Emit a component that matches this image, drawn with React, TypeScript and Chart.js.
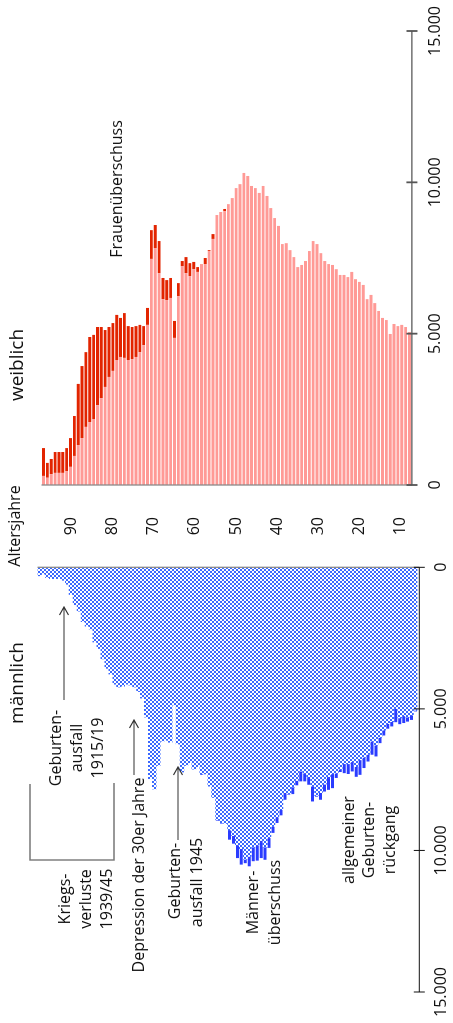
import React, { useEffect, useRef } from "react";
import { Chart, registerables } from "chart.js";

Chart.register(...registerables);

// Altersjahre (oldest at top)
const ages = [
  95, 94, 93, 92, 91, 90, 89, 88, 87, 86, 85, 84, 83, 82, 81, 80, 79, 78, 77, 76,
  75, 74, 73, 72, 71, 70, 69, 68, 67, 66, 65, 64, 63, 62, 61, 60, 59, 58, 57, 56,
  55, 54, 53, 52, 51, 50, 49, 48, 47, 46, 45, 44, 43, 42, 41, 40, 39, 38, 37, 36,
  35, 34, 33, 32, 31, 30, 29, 28, 27, 26, 25, 24, 23, 22, 21, 20, 19, 18, 17, 16,
  15, 14, 13, 12, 11, 10, 9, 8, 7, 6, 5, 4, 3, 2, 1, 0,
];

const female = [
  1220, 730, 860, 1090, 1090, 1090, 1220, 1550, 2280, 3340,
  3930, 4390, 4890, 4960, 5220, 5220, 5120, 5220, 5350, 5620,
  5520, 5680, 5250, 5220, 5250, 5290, 5250, 5850, 8420, 8590,
  8060, 6840, 6770, 6840, 5420, 6670, 7400, 7530, 7330, 7370,
  7200, 7300, 7500, 7760, 8290, 8920, 9020, 9120, 9280, 9480,
  9810, 9940, 10310, 10210, 9880, 9810, 9650, 9880, 9550, 9150,
  8820, 8560, 7960, 7990, 7760, 7530, 7200, 7270, 7400, 7730,
  8060, 7960, 7660, 7400, 7300, 7270, 7130, 6940, 6940, 6870,
  7040, 6800, 6710, 6610, 6140, 6280, 6010, 5750, 5520, 5450,
  4990, 5320, 5250, 5290, 5220, 5050,
];

const male = [
  300, 240, 360, 400, 400, 400, 460, 600, 960, 1320,
  1550, 1920, 2080, 2180, 2640, 2870, 3240, 3570, 3770, 4130,
  4230, 4200, 4130, 4160, 4230, 4390, 4620, 5290, 7470, 7830,
  7000, 6140, 6110, 6180, 4860, 6240, 7230, 7000, 6900, 7130,
  7040, 7330, 7300, 7730, 8130, 8950, 9050, 9050, 9620, 9760,
  10270, 10500, 10450, 10560, 10380, 10360, 10270, 10330, 9910, 9380,
  9030, 8760, 8210, 8030, 8010, 7700, 7560, 7560, 7680, 8270,
  8100, 8210, 7920, 7860, 7800, 7440, 7230, 7270, 7300, 7210,
  7400, 7330, 7090, 6860, 6620, 6680, 6210, 5940, 5700, 5620,
  5470, 5540, 5500, 5450, 5390, 5090,
];

const valueTicks = [0, 5000, 10000, 15000];
const ageTicks = [90, 80, 70, 60, 50, 40, 30, 20, 10];
const AGE_MIN = 7.451;
const AGE_MAX = 97.13;

const FONT = '"Open Sans", "DejaVu Sans", sans-serif';

const fmt = (v: number) => String(v).replace(/\B(?=(\d{3})+(?!\d))/g, ".");

const common = female.map((f, i) => Math.min(f, male[i]));
const femaleExcess = female.map((f, i) => Math.max(f - male[i], 0));
const maleExcess = male.map((m, i) => Math.max(m - female[i], 0));

function makeChecker(ctx: CanvasRenderingContext2D, color: string) {
  const c = document.createElement("canvas");
  c.width = 4;
  c.height = 4;
  const g = c.getContext("2d")!;
  g.fillStyle = "#ffffff";
  g.fillRect(0, 0, 4, 4);
  g.fillStyle = color;
  g.fillRect(0, 0, 2, 2);
  g.fillRect(2, 2, 2, 2);
  return ctx.createPattern(c, "repeat")!;
}

function drawArrow(ctx: CanvasRenderingContext2D, x1: number, y: number, x2: number) {
  ctx.beginPath();
  ctx.moveTo(x1, y);
  ctx.lineTo(x2, y);
  ctx.moveTo(x2 - 8, y - 4.5);
  ctx.lineTo(x2, y);
  ctx.lineTo(x2 - 8, y + 4.5);
  ctx.stroke();
}

function textLines(ctx: CanvasRenderingContext2D, x: number, lines: [string, number][]) {
  for (const [t, y] of lines) ctx.fillText(t, x, y);
}

function axisDecor(kind: "male" | "female") {
  return {
    id: kind + "Decor",
    afterDraw(chart: any) {
      const ctx: CanvasRenderingContext2D = chart.ctx;
      const xs = chart.scales.x;
      const area = chart.chartArea;
      const axisY = kind === "female" ? area.bottom + 0.5 : area.bottom + 1.8;
      ctx.save();
      // zero line (age axis border)
      ctx.strokeStyle = "#8a8a8a";
      ctx.lineWidth = 1.3;
      const x0 = xs.getPixelForValue(0);
      ctx.beginPath();
      ctx.moveTo(x0, area.top);
      ctx.lineTo(x0, axisY);
      ctx.stroke();
      // value axis line
      ctx.strokeStyle = kind === "female" ? "#555555" : "#111111";
      ctx.lineWidth = kind === "female" ? 1.4 : 1;
      ctx.beginPath();
      ctx.moveTo(xs.getPixelForValue(0), axisY);
      ctx.lineTo(xs.getPixelForValue(15000), axisY);
      ctx.stroke();
      ctx.lineWidth = kind === "female" ? 1.8 : 1;
      for (const v of valueTicks) {
        const px = xs.getPixelForValue(v);
        ctx.beginPath();
        ctx.moveTo(px, axisY - 5.5);
        ctx.lineTo(px, axisY + 5.5);
        ctx.stroke();
      }
      ctx.fillStyle = "#111111";
      ctx.textBaseline = "alphabetic";
      ctx.textAlign = "center";
      if (kind === "female") {
        ctx.font = "16px " + FONT;
        ctx.fillText("Altersjahre", 41, 20);
        ctx.fillText("Frauenüberschuss", 378, 122);
        ctx.font = "19px " + FONT;
        ctx.fillText("weiblich", 202, 23);
      } else {
        ctx.font = "19px " + FONT;
        ctx.fillText("männlich", 340, 23);
        ctx.font = "16px " + FONT;
        textLines(ctx, 275, [["Geburten-", 61], ["ausfall", 82], ["1915/19", 103]]);
        textLines(ctx, 124, [["Kriegs-", 70], ["verluste", 91], ["1939/45", 112]]);
        ctx.fillText("Depression der 30er Jahre", 148, 144);
        textLines(ctx, 142, [["Geburten-", 180]]);
        textLines(ctx, 140.5, [["ausfall 1945", 202]]);
        textLines(ctx, 120.5, [["Männer-", 258], ["überschuss", 280]]);
        textLines(ctx, 183, [["allgemeiner", 354], ["Geburten-", 374], ["rückgang", 395]]);
        // arrows
        ctx.strokeStyle = "#333333";
        ctx.lineWidth = 1.2;
        drawArrow(ctx, 323, 64, 416);
        drawArrow(ctx, 248, 134, 303);
        drawArrow(ctx, 183, 178, 256);
        // bracket Kriegsverluste
        ctx.strokeStyle = "#777777";
        ctx.lineWidth = 1.4;
        ctx.beginPath();
        ctx.moveTo(239, 30);
        ctx.lineTo(163, 30);
        ctx.lineTo(163, 114);
        ctx.lineTo(240, 114);
        ctx.stroke();
      }
      ctx.restore();
    },
  };
}

function valueAxis(reverse: boolean) {
  return {
    type: "linear" as const,
    position: "bottom" as const,
    reverse,
    min: 0,
    max: 15000,
    stacked: true,
    grid: { display: false, drawTicks: true, tickLength: 14 },
    border: { display: false },
    afterBuildTicks: (s: any) => {
      s.ticks = valueTicks.map((v) => ({ value: v }));
    },
    afterFit: (s: any) => {
      s.height = 453 - 417.5;
    },
    ticks: {
      autoSkip: false,
      maxRotation: 0,
      padding: 0,
      color: "#111111",
      font: { family: FONT, size: 16 },
      callback: (v: any) => fmt(Number(v)),
    },
  };
}

export default function App() {
  const maleRef = useRef<HTMLCanvasElement>(null);
  const femaleRef = useRef<HTMLCanvasElement>(null);

  useEffect(() => {
    const mc = maleRef.current!;
    const fc = femaleRef.current!;
    const mctx = mc.getContext("2d")!;
    const pattern = makeChecker(mctx, "#3a68ff");

    const maleChart = new Chart(mc, {
      type: "bar",
      data: {
        labels: ages,
        datasets: [
          {
            label: "Männer",
            data: common,
            backgroundColor: pattern as any,
            borderWidth: 0,
            barPercentage: 1,
            categoryPercentage: 1,
          },
          {
            label: "Männerüberschuss",
            data: maleExcess,
            backgroundColor: "#2a3cff",
            borderWidth: 0,
            barPercentage: 0.75,
            categoryPercentage: 1,
          },
        ],
      },
      options: {
        indexAxis: "y",
        animation: false,
        responsive: false,
        maintainAspectRatio: false,
        layout: { padding: { left: 31, right: 470 - 455.7, top: 37.5, bottom: 0 } },
        plugins: { legend: { display: false }, tooltip: { enabled: false } },
        scales: {
          x: valueAxis(true) as any,
          y: { type: "category", stacked: true, display: false, offset: true, grid: { display: false } },
        },
      },
      plugins: [axisDecor("male")],
    });

    const femaleChart = new Chart(fc, {
      type: "bar",
      data: {
        labels: ages,
        datasets: [
          {
            label: "Frauen",
            data: common,
            backgroundColor: "#ff9a96",
            borderWidth: 0,
            barPercentage: 0.75,
            categoryPercentage: 1,
          },
          {
            label: "Frauenüberschuss",
            data: femaleExcess,
            backgroundColor: "#e22400",
            borderWidth: 0,
            barPercentage: 0.75,
            categoryPercentage: 1,
          },
        ],
      },
      options: {
        indexAxis: "y",
        animation: false,
        responsive: false,
        maintainAspectRatio: false,
        layout: { padding: { left: 0, right: 567 - 536, top: 37.5, bottom: 0 } },
        plugins: { legend: { display: false }, tooltip: { enabled: false } },
        scales: {
          x: valueAxis(false) as any,
          y: { type: "category", stacked: true, display: false, offset: true, grid: { display: false } },
          age: {
            type: "linear",
            position: "left",
            bounds: "data",
            offset: false,
            min: AGE_MIN,
            max: AGE_MAX,
            grid: { display: false, drawTicks: false, offset: false },
            border: { display: false },
            afterDataLimits: (s: any) => {
              s.min = AGE_MIN;
              s.max = AGE_MAX;
            },
            afterBuildTicks: (s: any) => {
              s.ticks = ageTicks.map((v) => ({ value: v }));
              s.min = AGE_MIN;
              s.max = AGE_MAX;
            },
            afterFit: (s: any) => {
              s.width = 82;
            },
            ticks: {
              autoSkip: false,
              padding: 32,
              color: "#111111",
              font: { family: FONT, size: 16 },
            },
          } as any,
        },
      },
      plugins: [axisDecor("female")],
    });

    return () => {
      maleChart.destroy();
      femaleChart.destroy();
    };
  }, []);

  return (
    <div
      style={{
        position: "absolute",
        left: 0,
        top: 0,
        width: 453,
        height: 1023,
        overflow: "hidden",
        background: "#ffffff",
      }}
    >
      <div
        style={{
          position: "absolute",
          left: 0,
          top: 0,
          width: 1023,
          height: 453,
          transformOrigin: "0 0",
          transform: "translateY(1023px) rotate(-90deg)",
        }}
      >
        <canvas
          ref={maleRef}
          width={470}
          height={453}
          style={{ position: "absolute", left: 0, top: 0, width: 470, height: 453 }}
        />
        <canvas
          ref={femaleRef}
          width={567}
          height={453}
          style={{ position: "absolute", left: 456, top: 0, width: 567, height: 453 }}
        />
      </div>
    </div>
  );
}
